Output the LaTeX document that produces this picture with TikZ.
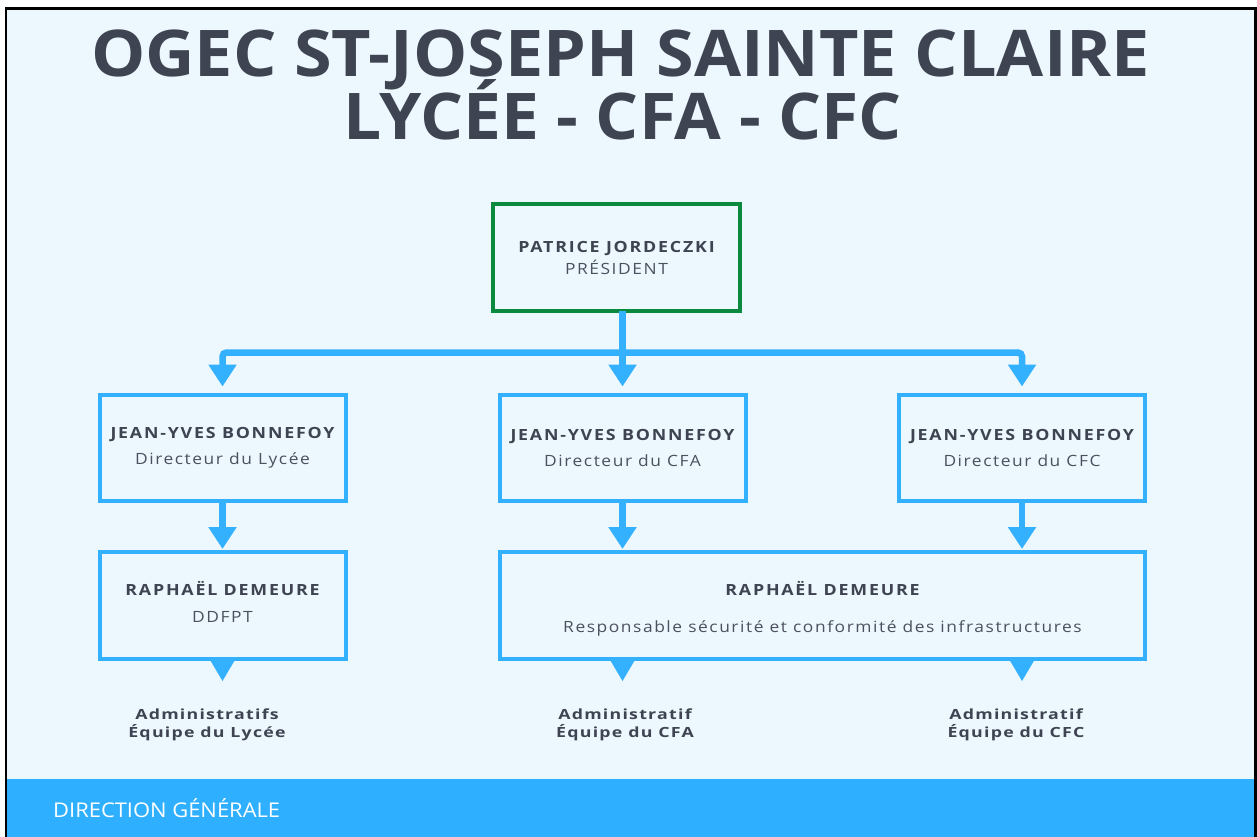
\documentclass[tikz,border=0pt]{standalone}
\usepackage{fontspec}
\setmainfont{Open Sans}
\newfontfamily\spacedA{Open Sans}[LetterSpace=10]
\newfontfamily\spacedC{Open Sans}[LetterSpace=7]
\newfontfamily\spacedB{Open Sans}[LetterSpace=9]
\usetikzlibrary{arrows.meta}
\definecolor{bg}{HTML}{EDF7FE}
\definecolor{sky}{HTML}{33B1FF}
\definecolor{band}{HTML}{2FAFFF}
\definecolor{ink}{HTML}{3E4451}
\definecolor{ink2}{HTML}{4B515E}
\definecolor{grn}{HTML}{0B8A3F}
\newlength\fitlen
\newcommand\fftitle{\bfseries\fontsize{64.4}{64}\selectfont}
\newcommand\ffband{\fontsize{20.3}{24}\selectfont}
\newcommand\ffname{\spacedA\bfseries\fontsize{15.4}{18}\selectfont}
\newcommand\ffsub{\spacedB\fontsize{15.5}{18}\selectfont}
\newcommand\ffadm{\spacedC\bfseries\fontsize{14}{18}\selectfont}
\newcommand\mkscale[3]{\setbox0=\hbox{#3}\fitlen=\wd0\pgfmathsetmacro#1{#2/\fitlen}}
\AtBeginDocument{%
  \mkscale\nsx{224}{\ffname JEAN-YVES BONNEFOY}%
  \mkscale\ssx{157}{\ffsub Directeur du CFC}%
  \mkscale\asx{137}{\ffadm Équipe du CFC}%
  \mkscale\tsxa{1059}{\fftitle OGEC ST-JOSEPH SAINTE CLAIRE}%
  \mkscale\tsxb{559}{\fftitle LYCÉE - CFA - CFC}%
  \mkscale\bsx{227}{\ffband DIRECTION GÉNÉRALE}%
}
\newcommand\pname[1]{{\ffname\color{ink}\scalebox{\nsx}[1]{#1}}}
\newcommand\psub[1]{{\ffsub\color{ink2}\scalebox{\ssx}[1]{#1}}}
\newcommand\padm[1]{{\ffadm\color{ink}\scalebox{\asx}[1]{#1}}}
\tikzset{
  box/.style={draw=sky, line width=4pt, fill=bg, minimum width=246pt, minimum height=106pt,
    inner sep=0pt, outer sep=0pt, align=center},
  txt/.style={inner sep=0pt, align=center},
  arr/.style={draw=sky, line width=6.5pt, -{Triangle[width=27pt,length=22pt]}},
  tip/.style={fill=sky},
  adm/.style={align=center, inner sep=0pt, font=\fontsize{14}{18}\selectfont},
  ttl/.style={anchor=base, inner sep=0pt, text=ink, font=\fftitle},
}
\begin{document}
\begin{tikzpicture}[x=1pt,y=-1pt]
\useasboundingbox (0,0) rectangle (1257,837);
% background and frame
\fill[white] (0,0) rectangle (1257,837);
\fill[bg] (6,8.5) rectangle (1255.5,837);
\fill[band] (7,779) rectangle (1255,837);
\draw[black, line width=2.5pt] (6,837) -- (6,8.5) -- (1255.5,8.5) -- (1255.5,837);
% title
\node[ttl] (t1) at (620.5,77) {\scalebox{\tsxa}[1]{OGEC ST-JOSEPH SAINTE CLAIRE}};
\node[ttl] (t2) at (622.5,140) {\scalebox{\tsxb}[1]{LYCÉE - CFA - CFC}};
% boxes
\node[box, draw=grn, minimum width=247pt, minimum height=107pt, font=\fontsize{15}{22}\selectfont] (pres) at (616.5,257.5)
  {\pname{PATRICE JORDECZKI}\\\psub{PRÉSIDENT}};
\node[box, font=\fontsize{15}{26}\selectfont] (d1) at (222.5,447.5) {\pname{JEAN-YVES BONNEFOY}\\\psub{Directeur du Lycée}};
\node[box, font=\fontsize{15}{26}\selectfont] (d2) at (622.5,447.5) {\pname{JEAN-YVES BONNEFOY}\\\psub{Directeur du CFA}};
\node[box, font=\fontsize{15}{26}\selectfont] (d3) at (1022,447.5) {\pname{JEAN-YVES BONNEFOY}\\\psub{Directeur du CFC}};
\node[box, minimum height=107pt] (r1) at (222.5,605.5) {};
\node[txt, font=\fontsize{15}{27}\selectfont] (r1t) at ([yshift=4pt]r1.center) {\pname{RAPHAËL DEMEURE}\\\psub{DDFPT}};
\node[box, minimum width=645pt, minimum height=107pt] (r2) at (822.5,605.5) {};
\node[txt, font=\fontsize{15}{37}\selectfont] (r2t) at ([yshift=-3pt]r2.center)
  {\pname{RAPHAËL DEMEURE}\\\psub{Responsable sécurité et conformité des infrastructures}};
% connectors
\coordinate (hl) at (622.5,352.5);
\draw[arr] (pres.south -| d2.north) -- ([yshift=8pt]d2.north);
\draw[arr, rounded corners=4pt] (hl) -| ([yshift=8pt]d1.north);
\draw[arr, rounded corners=4pt] (hl) -| ([yshift=8pt]d3.north);
\path (r2.north -| d2.south) coordinate (r2a) (r2.north -| d3.south) coordinate (r2c);
\path (r2.south -| d2.south) coordinate (r2b) (r2.south -| d3.south) coordinate (r2d);
\draw[arr] (d1.south) -- ([yshift=3pt]r1.north);
\draw[arr] (d2.south) -- ([yshift=3pt]r2a);
\draw[arr] (d3.south) -- ([yshift=3pt]r2c);
\fill[tip] ([xshift=-13pt]r1.south) -- ([xshift=13pt]r1.south) -- ([yshift=-22pt]r1.south) -- cycle;
\fill[tip] ([xshift=-13pt]r2b) -- ([xshift=13pt]r2b) -- ([yshift=-22pt]r2b) -- cycle;
\fill[tip] ([xshift=-13pt]r2d) -- ([xshift=13pt]r2d) -- ([yshift=-22pt]r2d) -- cycle;
% bottom labels
\node[adm] (a1) at (207,725) {\padm{Administratifs}\\\padm{Équipe du Lycée}};
\node[adm] (a2) at (625,725) {\padm{Administratif}\\\padm{Équipe du CFA}};
\node[adm] (a3) at (1016,725) {\padm{Administratif}\\\padm{Équipe du CFC}};
% band text
\node[anchor=base west, inner sep=0pt, text=white, font=\ffband] (dg) at (53,817) {\scalebox{\bsx}[1]{DIRECTION GÉNÉRALE}};
\end{tikzpicture}
\end{document}
